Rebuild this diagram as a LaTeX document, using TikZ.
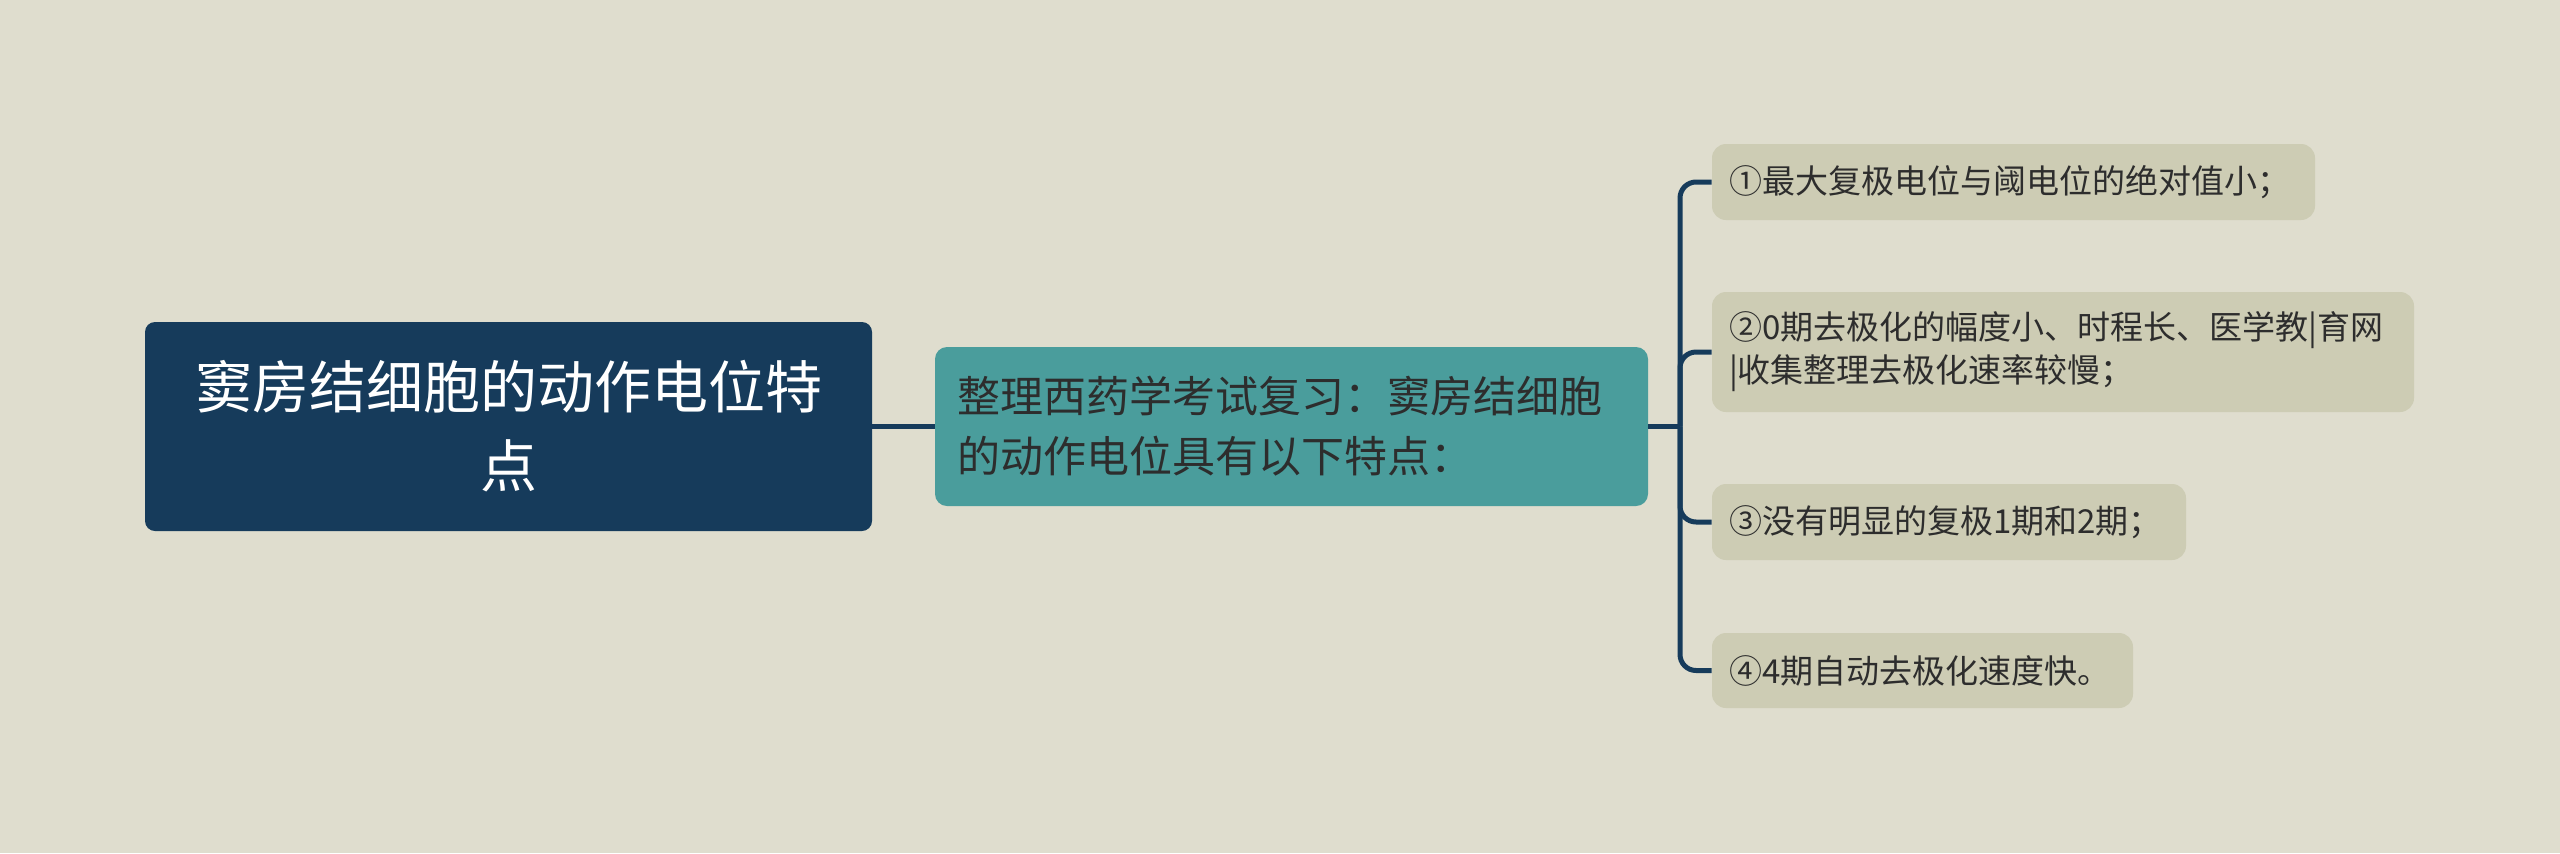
\documentclass[tikz,border=0pt]{standalone}
\usepackage{fontspec}
\setmainfont{Noto Sans CJK SC}
\definecolor{bg}{RGB}{223,221,206}
\definecolor{rootc}{RGB}{22,59,91}
\definecolor{midc}{RGB}{74,157,156}
\definecolor{leafc}{RGB}{205,204,180}
\definecolor{txt}{RGB}{45,45,45}
\tikzset{
  rootbox/.style={draw=none, fill=rootc, rounded corners=5pt, text=white, align=center,
    font=\fontsize{28.5}{39.5}\selectfont, inner xsep=0pt, inner ysep=0pt},
  midbox/.style={draw=none, fill=midc, rounded corners=6pt, text=txt, align=left,
    font=\fontsize{21.5}{30}\selectfont, inner xsep=11pt, inner ysep=0pt},
  leafbox/.style={draw=none, fill=leafc, rounded corners=7pt, text=txt, align=left,
    font=\fontsize{16.5}{21.5}\selectfont, inner xsep=8.5pt, inner ysep=0pt},
  conn/.style={draw=rootc, line width=2.5pt},
}
\begin{document}
\begin{tikzpicture}[x=0.5pt,y=-0.5pt]
\useasboundingbox[fill=bg] (0,0) rectangle (2560,853);
\node[rootbox, minimum width=363.5pt, minimum height=104.5pt, text width=333pt] (root) at (508.5,426.5)
  {窦房结细胞的动作电位特\\点};
\node[midbox, minimum height=79.5pt, text width=334.5pt] (mid) at (1291.5,426.5)
  {整理西药学考试复习：窦房结细胞\\的动作电位具有以下特点：};
\node[leafbox, minimum height=38pt, text width=284.5pt] (l1) at (2013.5,182)
  {①最大复极电位与阈电位的绝对值小；};
\node[leafbox, minimum height=60pt, text width=334pt] (l2) at (2063,352)
  {②0期去极化的幅度小、时程长、医学教|育网\\|收集整理去极化速率较慢；};
\node[leafbox, minimum height=38pt, text width=220pt] (l3) at (1949,522)
  {③没有明显的复极1期和2期；};
\node[leafbox, minimum height=37.5pt, text width=193.5pt] (l4) at (1922.5,670.5)
  {④4期自动去极化速度快。};
\coordinate (br) at (1680,426.5);
\draw[conn] (root.east) -- (mid.west);
\draw[conn] (mid.east) -- (br);
\foreach \l in {l1,l2,l3,l4}{
  \draw[conn, rounded corners=8pt] (br) |- (\l.west);
}
\end{tikzpicture}
\end{document}
